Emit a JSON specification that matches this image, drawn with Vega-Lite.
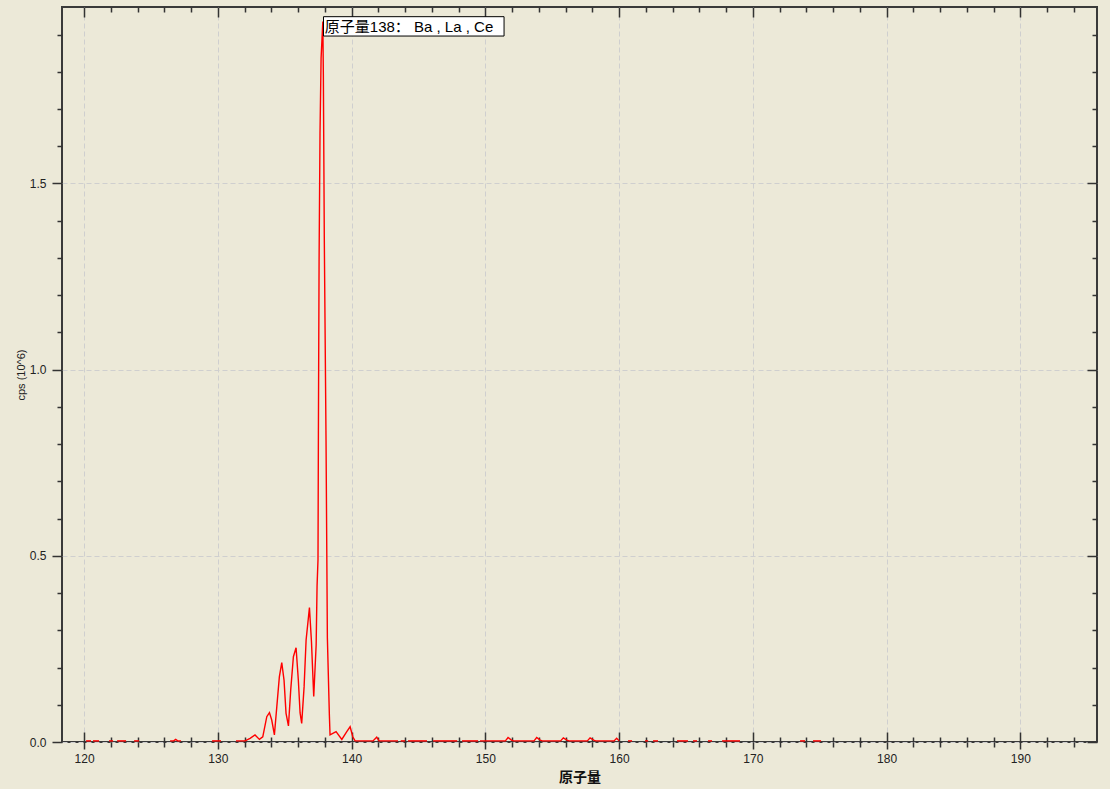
{
  "$schema": "https://vega.github.io/schema/vega-lite/v6.json",
  "autosize": {"type": "none"},
  "width": 1035,
  "height": 735,
  "padding": {"left": 62, "top": 7, "right": 13, "bottom": 47},
  "background": "#ECE9D8",
  "config": {
    "view": {"stroke": "#3a3a3a", "strokeWidth": 2, "fill": "#ECE9D8"},
    "axis": {
      "domain": false,
      "labelFont": "Liberation Sans",
      "labelFontSize": 12,
      "labelColor": "#222222",
      "tickColor": "#333333",
      "tickWidth": 1.5,
      "gridColor": "#cfcfcf",
      "gridDash": [5, 3],
      "gridWidth": 1
    }
  },
  "datasets": {
    "spectrum": [
      {"m": 120.15, "c": 0.003, "s": 1}, {"m": 120.52, "c": 0.003, "s": 1},
      {"m": 120.67, "c": 0.003, "s": 2}, {"m": 121.12, "c": 0.003, "s": 2},
      {"m": 121.87, "c": 0.003, "s": 3}, {"m": 122.17, "c": 0.003, "s": 3},
      {"m": 122.47, "c": 0.003, "s": 4}, {"m": 123.14, "c": 0.003, "s": 4},
      {"m": 123.74, "c": 0.003, "s": 5}, {"m": 124.11, "c": 0.003, "s": 5},
      {"m": 126.43, "c": 0.003, "s": 6}, {"m": 126.7, "c": 0.003, "s": 6}, {"m": 126.85, "c": 0.007, "s": 6}, {"m": 127.0, "c": 0.003, "s": 6}, {"m": 127.25, "c": 0.003, "s": 6},
      {"m": 129.57, "c": 0.003, "s": 7}, {"m": 130.24, "c": 0.003, "s": 7},
      {"m": 131.36, "c": 0.003, "s": 8}, {"m": 132.04, "c": 0.003, "s": 8}, {"m": 132.41, "c": 0.01, "s": 8}, {"m": 132.78, "c": 0.019, "s": 8},
      {"m": 133.11, "c": 0.007, "s": 8}, {"m": 133.36, "c": 0.014, "s": 8}, {"m": 133.66, "c": 0.068, "s": 8}, {"m": 133.86, "c": 0.079, "s": 8},
      {"m": 134.03, "c": 0.059, "s": 8}, {"m": 134.23, "c": 0.019, "s": 8}, {"m": 134.41, "c": 0.095, "s": 8}, {"m": 134.6, "c": 0.175, "s": 8},
      {"m": 134.78, "c": 0.213, "s": 8}, {"m": 134.95, "c": 0.166, "s": 8}, {"m": 135.1, "c": 0.077, "s": 8}, {"m": 135.28, "c": 0.043, "s": 8},
      {"m": 135.45, "c": 0.14, "s": 8}, {"m": 135.65, "c": 0.229, "s": 8}, {"m": 135.85, "c": 0.253, "s": 8}, {"m": 136.02, "c": 0.166, "s": 8},
      {"m": 136.15, "c": 0.078, "s": 8}, {"m": 136.27, "c": 0.05, "s": 8}, {"m": 136.45, "c": 0.148, "s": 8}, {"m": 136.6, "c": 0.274, "s": 8},
      {"m": 136.85, "c": 0.361, "s": 8}, {"m": 137.0, "c": 0.27, "s": 8}, {"m": 137.17, "c": 0.122, "s": 8}, {"m": 137.35, "c": 0.26, "s": 8},
      {"m": 137.42, "c": 0.42, "s": 8}, {"m": 137.49, "c": 0.49, "s": 8}, {"m": 137.52, "c": 0.837, "s": 8}, {"m": 137.57, "c": 1.29, "s": 8},
      {"m": 137.64, "c": 1.635, "s": 8}, {"m": 137.72, "c": 1.836, "s": 8}, {"m": 137.85, "c": 1.935, "s": 8}, {"m": 137.89, "c": 1.79, "s": 8},
      {"m": 137.96, "c": 1.355, "s": 8}, {"m": 138.09, "c": 0.81, "s": 8}, {"m": 138.19, "c": 0.28, "s": 8}, {"m": 138.34, "c": 0.072, "s": 8},
      {"m": 138.39, "c": 0.019, "s": 8}, {"m": 138.84, "c": 0.028, "s": 8}, {"m": 139.27, "c": 0.007, "s": 8}, {"m": 139.64, "c": 0.028, "s": 8},
      {"m": 139.89, "c": 0.041, "s": 8}, {"m": 140.09, "c": 0.014, "s": 8}, {"m": 140.26, "c": 0.003, "s": 8}, {"m": 141.6, "c": 0.003, "s": 8},
      {"m": 141.88, "c": 0.013, "s": 8}, {"m": 142.05, "c": 0.003, "s": 8}, {"m": 143.47, "c": 0.003, "s": 8},
      {"m": 143.67, "c": 0.003, "s": 9}, {"m": 144.0, "c": 0.003, "s": 9},
      {"m": 144.22, "c": 0.003, "s": 10}, {"m": 145.64, "c": 0.003, "s": 10},
      {"m": 146.1, "c": 0.003, "s": 11}, {"m": 147.9, "c": 0.003, "s": 11},
      {"m": 148.26, "c": 0.003, "s": 12}, {"m": 149.46, "c": 0.003, "s": 12},
      {"m": 149.6, "c": 0.003, "s": 13}, {"m": 151.5, "c": 0.003, "s": 13}, {"m": 151.7, "c": 0.012, "s": 13}, {"m": 151.95, "c": 0.005, "s": 13},
      {"m": 152.1, "c": 0.003, "s": 13}, {"m": 153.64, "c": 0.003, "s": 13}, {"m": 153.84, "c": 0.012, "s": 13}, {"m": 154.1, "c": 0.005, "s": 13},
      {"m": 154.25, "c": 0.003, "s": 13}, {"m": 155.63, "c": 0.003, "s": 13}, {"m": 155.83, "c": 0.011, "s": 13}, {"m": 156.1, "c": 0.005, "s": 13},
      {"m": 156.25, "c": 0.003, "s": 13}, {"m": 157.63, "c": 0.003, "s": 13}, {"m": 157.83, "c": 0.011, "s": 13}, {"m": 158.1, "c": 0.005, "s": 13},
      {"m": 158.25, "c": 0.003, "s": 13}, {"m": 159.62, "c": 0.003, "s": 13}, {"m": 159.82, "c": 0.01, "s": 13}, {"m": 160.0, "c": 0.003, "s": 13},
      {"m": 160.67, "c": 0.003, "s": 14}, {"m": 160.97, "c": 0.003, "s": 14},
      {"m": 161.94, "c": 0.003, "s": 15}, {"m": 162.17, "c": 0.003, "s": 15},
      {"m": 162.54, "c": 0.003, "s": 16}, {"m": 162.91, "c": 0.003, "s": 16},
      {"m": 164.33, "c": 0.003, "s": 17}, {"m": 165.15, "c": 0.003, "s": 17},
      {"m": 165.53, "c": 0.003, "s": 18}, {"m": 165.83, "c": 0.003, "s": 18},
      {"m": 166.65, "c": 0.003, "s": 19}, {"m": 166.95, "c": 0.003, "s": 19},
      {"m": 167.7, "c": 0.003, "s": 20}, {"m": 169.04, "c": 0.003, "s": 20},
      {"m": 173.53, "c": 0.003, "s": 21}, {"m": 173.9, "c": 0.003, "s": 21},
      {"m": 174.5, "c": 0.003, "s": 22}, {"m": 175.1, "c": 0.003, "s": 22}
    ],
    "note": [
      {"m1": 137.9, "m2": 151.4, "c1": 1.896, "c2": 1.948, "mt": 138.0, "ct": 1.921, "label": "原子量138： Ba , La , Ce"}
    ]
  },
  "layer": [
    {
      "data": {"name": "spectrum"},
      "mark": {"type": "line", "color": "#ff0000", "strokeWidth": 1.4, "interpolate": "linear"},
      "encoding": {
        "x": {
          "field": "m", "type": "quantitative",
          "scale": {"domain": [118.35, 195.73], "nice": false, "zero": false},
          "axis": {
            "orient": "bottom",
            "title": "原子量",
            "titleFont": "Noto Sans CJK SC",
            "titleFontSize": 14,
            "titleFontWeight": "bold",
            "titleColor": "#111111",
            "titlePadding": 6,
            "values": [120,122,124,126,128,130,132,134,136,138,140,142,144,146,148,150,152,154,156,158,160,162,164,166,168,170,172,174,176,178,180,182,184,186,188,190,192,194],
            "labelExpr": "datum.value % 10 === 0 ? datum.label : ''",
            "tickSize": {"condition": {"test": "datum.value % 10 === 0", "value": 7}, "value": 5},
            "labelPadding": 4,
            "grid": true,
            "gridOpacity": {"condition": {"test": "datum.value % 10 === 0", "value": 1}, "value": 0}
          }
        },
        "y": {
          "field": "c", "type": "quantitative",
          "scale": {"domain": [0, 1.974], "nice": false},
          "axis": {
            "orient": "left",
            "title": "cps (10^6)",
            "titleFont": "Liberation Sans",
            "titleFontSize": 11,
            "titleFontWeight": "normal",
            "titleColor": "#222222",
            "titlePadding": 3,
            "values": [0,0.1,0.2,0.3,0.4,0.5,0.6,0.7,0.8,0.9,1.0,1.1,1.2,1.3,1.4,1.5,1.6,1.7,1.8,1.9],
            "labelExpr": "round(datum.value*10) % 5 === 0 ? format(datum.value, '.1f') : ''",
            "tickSize": {"condition": {"test": "round(datum.value*10) % 5 === 0", "value": 10}, "value": 5},
            "labelPadding": 6,
            "grid": true,
            "gridOpacity": {"condition": {"test": "round(datum.value*10) % 5 === 0", "value": 1}, "value": 0}
          }
        },
        "detail": {"field": "s", "type": "nominal"}
      }
    },
    {
      "data": {"name": "note"},
      "mark": {"type": "rect", "fill": "#ffffff", "stroke": "#000000", "strokeWidth": 1},
      "encoding": {
        "x": {
          "field": "m1", "type": "quantitative",
          "scale": {"domain": [118.35, 195.73], "nice": false, "zero": false},
          "axis": {
            "orient": "top", "title": null, "labels": false, "grid": false,
            "values": [120,122,124,126,128,130,132,134,136,138,140,142,144,146,148,150,152,154,156,158,160,162,164,166,168,170,172,174,176,178,180,182,184,186,188,190,192,194],
            "tickSize": {"condition": {"test": "datum.value % 10 === 0", "value": -10}, "value": -5}
          }
        },
        "x2": {"field": "m2"},
        "y": {
          "field": "c1", "type": "quantitative",
          "scale": {"domain": [0, 1.974], "nice": false},
          "axis": {
            "orient": "right", "title": null, "labels": false, "grid": false,
            "values": [0,0.1,0.2,0.3,0.4,0.5,0.6,0.7,0.8,0.9,1.0,1.1,1.2,1.3,1.4,1.5,1.6,1.7,1.8,1.9],
            "tickSize": {"condition": {"test": "round(datum.value*10) % 5 === 0", "value": -10}, "value": -5}
          }
        },
        "y2": {"field": "c2"}
      }
    },
    {
      "data": {"name": "note"},
      "mark": {"type": "text", "align": "left", "baseline": "middle", "font": "Liberation Sans, Noto Sans CJK SC", "fontSize": 15, "color": "#000000"},
      "encoding": {
        "x": {
          "field": "mt", "type": "quantitative",
          "scale": {"domain": [118.35, 195.73], "nice": false, "zero": false},
          "axis": {
            "orient": "bottom", "title": null, "labels": false, "grid": false,
            "values": [120,122,124,126,128,130,132,134,136,138,140,142,144,146,148,150,152,154,156,158,160,162,164,166,168,170,172,174,176,178,180,182,184,186,188,190,192,194],
            "tickSize": {"condition": {"test": "datum.value % 10 === 0", "value": -10}, "value": -5}
          }
        },
        "y": {"field": "ct", "type": "quantitative", "scale": {"domain": [0, 1.974], "nice": false}, "axis": null},
        "text": {"field": "label"}
      }
    }
  ],
  "resolve": {"axis": {"x": "independent", "y": "independent"}}
}
